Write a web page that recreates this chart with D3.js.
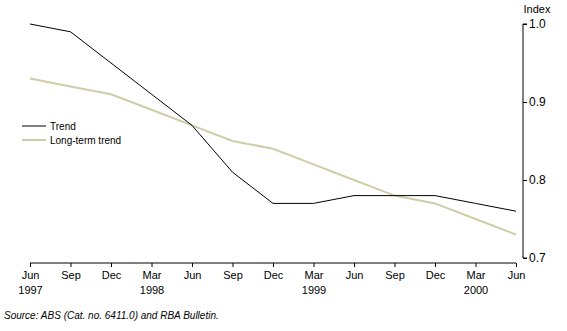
<!DOCTYPE html>
<html>
<head>
<meta charset="utf-8">
<script src="https://cdn.jsdelivr.net/npm/d3@7"></script>
<style>
  body { margin: 0; background: #fff; }
  svg { display: block; font-family: "Liberation Sans", Arial, sans-serif; }
</style>
</head>
<body>
<svg id="chart" width="567" height="331"></svg>
<script>
// Quarterly periods, June 1997 to June 2000
const quarters = ["Jun", "Sep", "Dec", "Mar", "Jun", "Sep", "Dec", "Mar", "Jun", "Sep", "Dec", "Mar", "Jun"];
const years = ["1997", "", "", "1998", "", "", "", "1999", "", "", "", "2000", ""];
const trend = [1.00, 0.99, 0.95, 0.91, 0.87, 0.81, 0.77, 0.77, 0.78, 0.78, 0.78, 0.77, 0.76];
const longTermTrend = [0.93, 0.92, 0.91, 0.89, 0.87, 0.85, 0.84, 0.82, 0.80, 0.78, 0.77, 0.75, 0.73];
const yTicks = [0.7, 0.8, 0.9, 1.0];

const svg = d3.select("#chart");
const idx = d3.range(quarters.length);

const x = d3.scaleLinear().domain([0, quarters.length - 1]).range([30, 516]);
const y = d3.scaleLinear().domain([0.7, 1.0]).range([258, 24]);

// Right-hand value axis
const yAxis = d3.axisRight(y).tickValues(yTicks).tickFormat(d3.format(".1f")).tickSize(4).tickPadding(2);
const gy = svg.append("g").attr("transform", "translate(523,0)").call(yAxis);
gy.select(".domain").attr("d", "M4,24H0V258H4").attr("stroke", "#000");
gy.selectAll("text").attr("font-size", 12).attr("fill", "#000");
gy.selectAll(".tick line").attr("stroke", "#000");

svg.append("text").attr("x", 537).attr("y", 13).attr("text-anchor", "middle")
  .attr("font-size", 11).text("Index");

// Bottom time axis
const xAxis = d3.axisBottom(x).tickValues(idx).tickFormat(i => quarters[i]).tickSize(4).tickPadding(4);
const gx = svg.append("g").attr("transform", "translate(0,263)").call(xAxis);
gx.select(".domain").attr("d", "M30,0H516").attr("stroke", "#000");
gx.selectAll(".tick line").attr("stroke", "#000");
gx.selectAll("text").attr("font-size", 11).attr("fill", "#000");
gx.selectAll(".tick").append("text")
  .attr("y", 23).attr("dy", "0.71em").attr("text-anchor", "middle")
  .attr("font-size", 11).attr("fill", "#000")
  .text(i => years[i]);

// Series lines
const line = vals => d3.line().x(i => x(i)).y(i => y(vals[i]))(idx);

svg.append("path").attr("d", line(longTermTrend))
  .attr("fill", "none").attr("stroke", "#cfcca6").attr("stroke-width", 2);
svg.append("path").attr("d", line(trend))
  .attr("fill", "none").attr("stroke", "#000").attr("stroke-width", 1);

// Legend
const legend = [
  { name: "Trend", color: "#000", width: 1 },
  { name: "Long-term trend", color: "#cfcca6", width: 2 }
];
const lg = svg.append("g").selectAll("g").data(legend).join("g")
  .attr("transform", (d, i) => `translate(22,${126 + i * 14})`);
lg.append("line").attr("x1", 0).attr("x2", 24).attr("y1", 0).attr("y2", 0)
  .attr("stroke", d => d.color).attr("stroke-width", d => d.width);
lg.append("text").attr("x", 28).attr("y", 0).attr("dy", "0.35em")
  .attr("font-size", 10).text(d => d.name);

// Source note
svg.append("text").attr("x", 4).attr("y", 319).attr("font-size", 10)
  .attr("font-style", "italic").text("Source: ABS (Cat. no. 6411.0) and RBA Bulletin.");
</script>
</body>
</html>
